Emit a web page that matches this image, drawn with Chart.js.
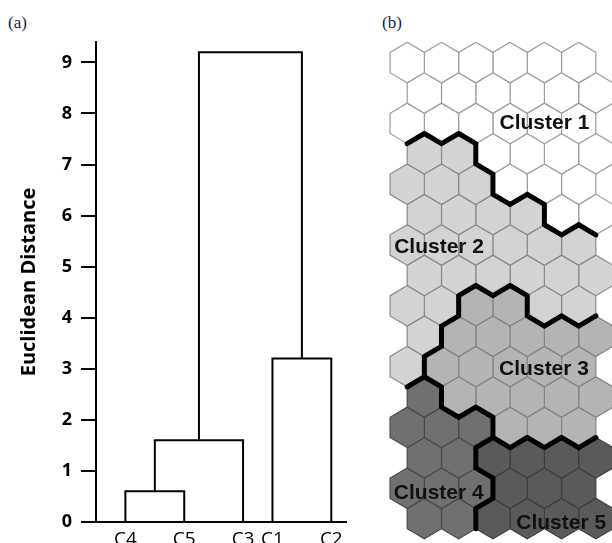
<!DOCTYPE html>
<html>
<head>
<meta charset="utf-8">
<script src="https://cdn.jsdelivr.net/npm/chart.js@4.4.1/dist/chart.umd.min.js"></script>
<style>
    html, body { margin: 0; padding: 0; background: #fff; }
    body { width: 612px; height: 543px; position: relative; overflow: hidden; }
    .panel { position: absolute; top: 0; height: 543px; }
    #panel-a { left: 0; width: 360px; }
    #panel-b { left: 380px; width: 232px; }
    .tag { position: absolute; top: 13px; font: 17px/20px "Liberation Serif", "Times New Roman", serif; color: #1c1c38; }
</style>
</head>
<body>
<div class="tag" style="left:8px">(a)</div>
<div class="tag" style="left:382px">(b)</div>
<div class="panel" id="panel-a"><canvas id="dendro"></canvas></div>
<div class="panel" id="panel-b"><canvas id="som"></canvas></div>
<script>
// ---- (a) dendrogram data ----
const leafLabels = ['C4', 'C5', 'C3', 'C1', 'C2'];
const leafOrder = [0, 2, 4, 5, 7];
const mergeNames = ['A', 'B', 'C', 'D'];
const mergeLeft = ['C4', 'A', 'C1', 'B'];
const mergeRight = ['C5', 'C3', 'C2', 'C'];
const mergeHeights = [0.6, 1.6, 3.2, 9.2];
const distanceTicks = [0, 1, 2, 3, 4, 5, 6, 7, 8, 9];

// ---- (b) SOM map data (16 rows x 6 cols, odd rows shifted right) ----
const clusterNames = ['Cluster 1', 'Cluster 2', 'Cluster 3', 'Cluster 4', 'Cluster 5'];
const clusterGrid = [
    [1, 1, 1, 1, 1, 1],
    [1, 1, 1, 1, 1, 1],
    [1, 1, 1, 1, 1, 1],
    [2, 2, 1, 1, 1, 1],
    [2, 2, 2, 1, 1, 1],
    [2, 2, 2, 2, 1, 1],
    [2, 2, 2, 2, 2, 2],
    [2, 2, 2, 2, 2, 2],
    [2, 2, 3, 3, 2, 2],
    [2, 3, 3, 3, 3, 3],
    [2, 3, 3, 3, 3, 3],
    [4, 3, 3, 3, 3, 3],
    [4, 4, 4, 3, 3, 3],
    [4, 4, 5, 5, 5, 5],
    [4, 4, 4, 5, 5, 5],
    [4, 4, 5, 5, 5, 5]
];

// styles / layout
const clusterFill = ['#ffffff', '#d3d3d3', '#b4b4b4', '#707070', '#5a5a5a'];
const clusterEdge = ['#9c9c9c', '#8a8a8a', '#848484', '#4a4a4a', '#3e3e3e'];
const labelAnchors = [[4.0, 2.0], [0.93, 6.06], [3.99, 10.09], [0.92, 14.17], [4.49, 15.16]];

// build dendrogram links
const nodes = {};
leafLabels.forEach((name, i) => { nodes[name] = { x: leafOrder[i], h: 0 }; });
const linkSets = mergeNames.map((name, i) => {
    const l = nodes[mergeLeft[i]];
    const r = nodes[mergeRight[i]];
    const h = mergeHeights[i];
    nodes[name] = { x: (l.x + r.x) / 2, h };
    return {
        data: [{ x: l.x, y: l.h }, { x: l.x, y: h }, { x: r.x, y: h }, { x: r.x, y: r.h }],
        borderColor: '#000',
        borderWidth: 2,
        pointRadius: 0,
        fill: false,
        tension: 0
    };
});

new Chart(document.getElementById('dendro'), {
    type: 'line',
    data: { datasets: linkSets },
    options: {
        responsive: true,
        maintainAspectRatio: false,
        animation: false,
        layout: { padding: { top: 42, right: 14, left: 0, bottom: 0 } },
        plugins: { legend: { display: false }, tooltip: { enabled: false } },
        scales: {
            x: {
                type: 'linear',
                min: -1,
                max: 7.5,
                grid: { display: true, drawOnChartArea: false, drawTicks: false },
                border: { color: '#000', width: 2 },
                afterBuildTicks: s => { s.ticks = leafOrder.map(v => ({ value: v })); },
                afterFit: s => { s.height = 21; },
                ticks: {
                    autoSkip: false,
                    maxRotation: 0,
                    padding: 6,
                    color: '#000',
                    font: { family: 'Open Sans', size: 19 },
                    callback: v => leafLabels[leafOrder.indexOf(v)]
                }
            },
            y: {
                min: 0,
                max: 9.4,
                afterBuildTicks: s => { s.ticks = distanceTicks.map(v => ({ value: v })); },
                afterFit: s => { s.width = 96; },
                grid: { drawOnChartArea: false, drawTicks: true, tickLength: 15, color: '#000', lineWidth: 2 },
                border: { color: '#000', width: 2 },
                ticks: { padding: 9, color: '#000', font: { family: 'Open Sans', size: 18, weight: 'bold' } },
                title: {
                    display: true,
                    text: 'Euclidean Distance',
                    color: '#000',
                    font: { family: 'Open Sans', size: 20, weight: 'bold' },
                    padding: { top: 17, bottom: 0 }
                }
            }
        }
    }
});

// build SOM hexes
const hexSets = [];
const cellX = (r, c) => c + (r % 2) * 0.5;
const hexVerts = (cx, cy) => [
    { x: cx, y: cy - 2 / 3 }, { x: cx + 0.5, y: cy - 1 / 3 }, { x: cx + 0.5, y: cy + 1 / 3 },
    { x: cx, y: cy + 2 / 3 }, { x: cx - 0.5, y: cy + 1 / 3 }, { x: cx - 0.5, y: cy - 1 / 3 }
];
clusterGrid.forEach((row, r) => {
    row.forEach((k, c) => {
        const v = hexVerts(cellX(r, c), r);
        hexSets.push({
            data: v.concat([v[0]]),
            backgroundColor: clusterFill[k - 1],
            borderColor: clusterEdge[k - 1],
            borderWidth: 1.2,
            pointRadius: 0,
            fill: 'shape',
            tension: 0,
            order: 1
        });
    });
});

// cluster boundaries: shared edges between neighbours of different clusters
const edgePts = [];
const addEdge = (a, b) => { edgePts.push(a, b, { x: (a.x + b.x) / 2, y: null }); };
clusterGrid.forEach((row, r) => {
    row.forEach((k, c) => {
        const v = hexVerts(cellX(r, c), r);
        if (c + 1 < row.length && row[c + 1] !== k) addEdge(v[1], v[2]);
        if (r + 1 < clusterGrid.length) {
            const next = clusterGrid[r + 1];
            const lr = r % 2 ? c + 1 : c;
            const ll = r % 2 ? c : c - 1;
            if (lr < next.length && next[lr] !== k) addEdge(v[2], v[3]);
            if (ll >= 0 && next[ll] !== k) addEdge(v[3], v[4]);
        }
    });
});
const boundarySet = {
    data: edgePts,
    borderColor: '#000',
    borderWidth: 5,
    borderCapStyle: 'round',
    borderJoinStyle: 'round',
    pointRadius: 0,
    fill: false,
    spanGaps: false,
    tension: 0,
    order: 0
};

const clusterLabels = {
    id: 'clusterLabels',
    afterDatasetsDraw(chart) {
        const { ctx, scales: { x, y } } = chart;
        ctx.save();
        ctx.font = 'bold 21px "Liberation Sans", Arial, sans-serif';
        ctx.fillStyle = '#111';
        ctx.textAlign = 'center';
        ctx.textBaseline = 'middle';
        clusterNames.forEach((name, i) => {
            ctx.fillText(name, x.getPixelForValue(labelAnchors[i][0]), y.getPixelForValue(labelAnchors[i][1]));
        });
        ctx.restore();
    }
};

new Chart(document.getElementById('som'), {
    type: 'line',
    data: { datasets: [boundarySet].concat(hexSets) },
    options: {
        responsive: true,
        maintainAspectRatio: false,
        animation: false,
        layout: { padding: 0 },
        plugins: { legend: { display: false }, tooltip: { enabled: false } },
        scales: {
            x: { type: 'linear', display: false, min: -0.793, max: 5.971 },
            y: { type: 'linear', display: false, reverse: true, min: -2.059, max: 15.803 }
        }
    },
    plugins: [clusterLabels]
});
</script>
</body>
</html>
